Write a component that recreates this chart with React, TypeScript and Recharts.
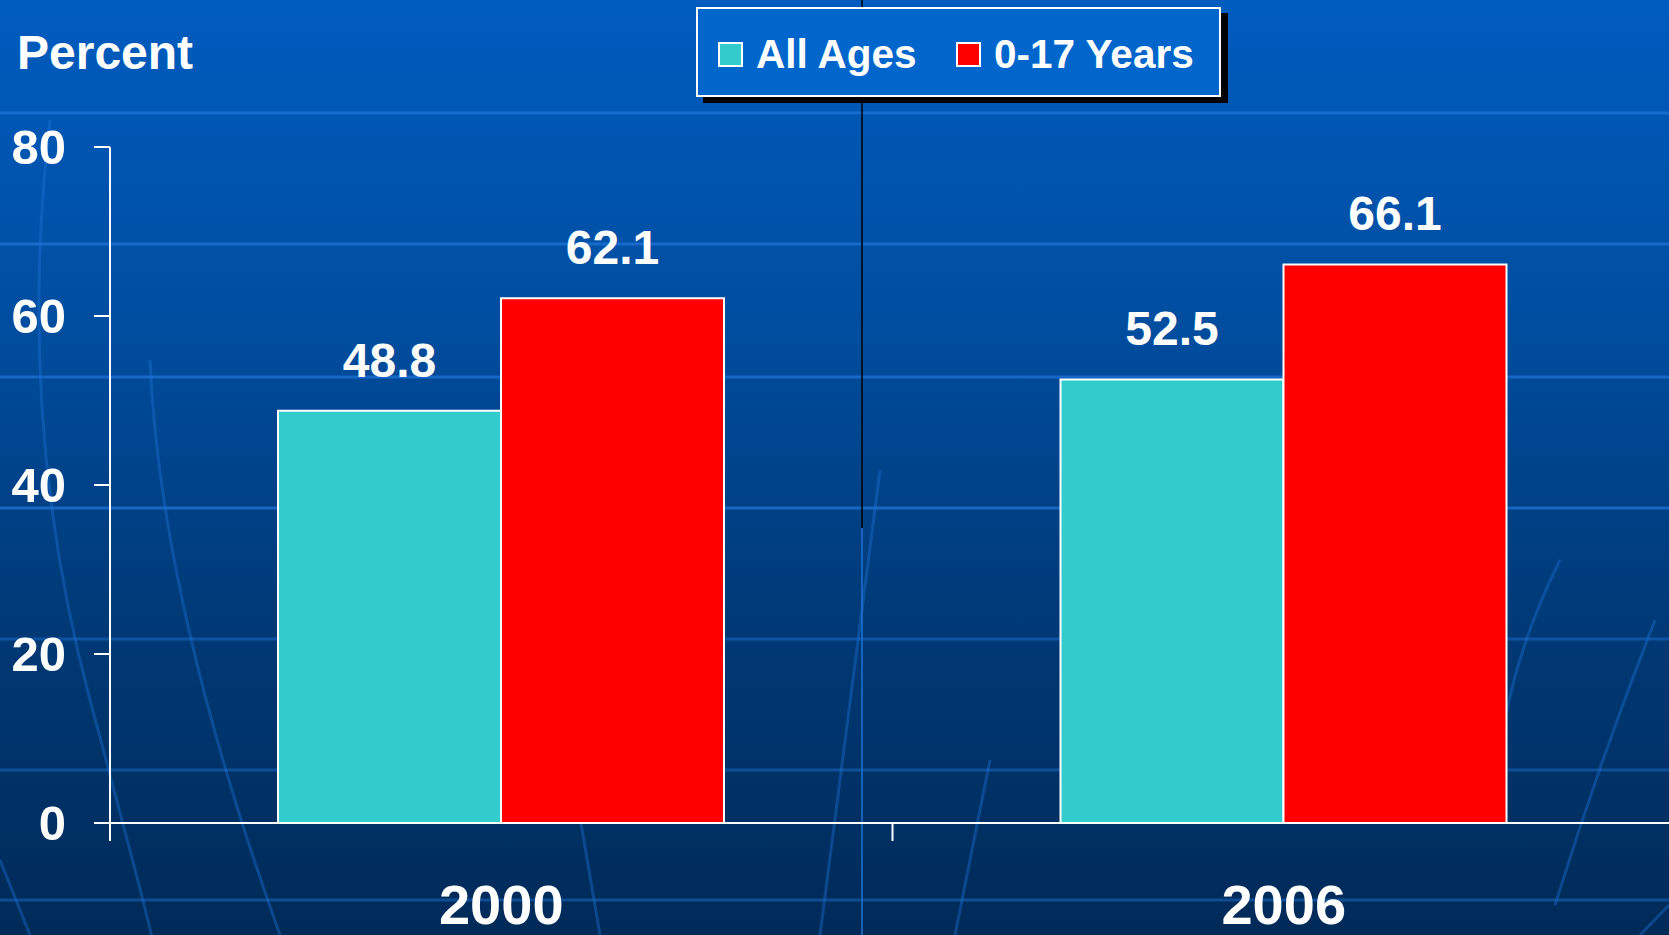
import React from 'react';
import { BarChart, Bar, XAxis, YAxis, Legend, LabelList } from 'recharts';

/* chart values */
const years = ['2000', '2006'];
const allAges = [48.8, 52.5];
const youth = [62.1, 66.1];
const yTicks = [0, 20, 40, 60, 80];
const seriesOrder = ['All Ages', '0-17 Years'];

const chartData = years.map((year, i) => ({ year, allAges: allAges[i], youth: youth[i] }));

const FONT = '"Liberation Sans", Arial, Helvetica, sans-serif';

/* decorative globe-like background lines */
const bgRows = [113, 244, 377, 508, 639, 770, 900];
const bgCurves = [
  'M 50 120 Q 15 420 90 700 T 150 935',
  'M 150 360 Q 160 600 280 935',
  'M 0 860 L 30 935',
  'M 560 700 Q 580 820 600 935',
  'M 880 470 Q 850 700 820 935',
  'M 990 760 L 955 935',
  'M 1560 560 Q 1520 640 1505 720',
  'M 1655 620 Q 1600 760 1555 905',
  'M 1669 905 L 1640 935',
];

const XTick = (props: any) => {
  const { x, y, payload } = props;
  const half = payload && typeof payload.offset === 'number' ? payload.offset : 392;
  return (
    <g>
      <line x1={x - half} x2={x - half} y1={y - 18} y2={y} stroke="#fff" strokeWidth={2} />
      <text x={x} y={y + 83} textAnchor="middle" fill="#fff" fontSize={56} fontWeight="bold" fontFamily={FONT}>
        {payload.value}
      </text>
    </g>
  );
};

const LegendBox = (props: any) => {
  const payload = [...(props.payload || [])].sort(
    (a: any, b: any) => seriesOrder.indexOf(a.value) - seriesOrder.indexOf(b.value)
  );
  return (
    <div
      style={{
        width: 525,
        height: 90,
        boxSizing: 'border-box',
        background: '#0066cc',
        border: '2px solid #fff',
        boxShadow: '7px 6px 0 #000',
        display: 'flex',
        alignItems: 'center',
        paddingLeft: 20,
        paddingTop: 5,
        fontFamily: FONT,
      }}
    >
      {payload.map((entry: any, i: number) => (
        <div key={i} style={{ display: 'flex', alignItems: 'center', width: i === 0 ? 238 : undefined }}>
          <span
            style={{
              width: 25,
              height: 25,
              boxSizing: 'border-box',
              background: entry.color,
              border: '2px solid #fff',
              marginRight: 13,
              display: 'inline-block',
            }}
          />
          <span style={{ color: '#fff', fontSize: 40.5, fontWeight: 'bold', lineHeight: 1, whiteSpace: 'nowrap' }}>
            {entry.value}
          </span>
        </div>
      ))}
    </div>
  );
};

export default function App() {
  return (
    <div
      style={{
        position: 'absolute',
        left: 0,
        top: 0,
        width: 1669,
        height: 935,
        overflow: 'hidden',
        background: 'linear-gradient(180deg, #005cbf 0%, #004d9f 35%, #003a78 65%, #002a58 100%)',
      }}
    >
      <svg width={1669} height={935} style={{ position: 'absolute', left: 0, top: 0 }}>
        {bgRows.map((y, i) => (
          <line key={i} x1={0} x2={1669} y1={y} y2={y} stroke="#1f73d6" strokeOpacity={i < 4 ? 0.75 : 0.45} strokeWidth={3} />
        ))}
        {bgCurves.map((d, i) => (
          <path key={i} d={d} fill="none" stroke="#1f73d6" strokeOpacity={0.4} strokeWidth={3} />
        ))}
        <line x1={862} x2={862} y1={0} y2={528} stroke="#000" strokeWidth={1.5} />
        <line x1={862} x2={862} y1={528} y2={935} stroke="#1f73d6" strokeWidth={1.5} />
        <text x={17} y={69} fill="#fff" fontSize={48} fontWeight="bold" fontFamily={FONT}>
          Percent
        </text>
      </svg>
      <div style={{ position: 'absolute', left: 0, top: 0 }}>
        <BarChart
          width={1697}
          height={935}
          data={chartData}
          barGap={0}
          margin={{ top: 147, right: 22, bottom: 0, left: 0 }}
        >
          <XAxis
            dataKey="year"
            height={112}
            axisLine={{ stroke: '#fff', strokeWidth: 2 }}
            tickLine={false}
            tickSize={18}
            tickMargin={0}
            tick={<XTick />}
            interval={0}
          />
          <YAxis
            width={110}
            domain={[0, 80]}
            ticks={yTicks}
            interval={0}
            axisLine={{ stroke: '#fff', strokeWidth: 2 }}
            tickLine={{ stroke: '#fff', strokeWidth: 2 }}
            tickSize={16}
            tickMargin={28}
            tick={{ fill: '#fff', fontSize: 49, fontWeight: 'bold', fontFamily: FONT }}
          />
          <Legend
            layout="horizontal"
            verticalAlign="middle"
            align="center"
            content={<LegendBox />}
            wrapperStyle={{ left: 696, top: 7, width: 525, height: 90 }}
          />
          <Bar dataKey="allAges" name="All Ages" fill="#33cccc" stroke="#fff" strokeWidth={2} barSize={223} isAnimationActive={false}>
            <LabelList dataKey="allAges" position="top" offset={34} fill="#fff" fontSize={48} fontWeight="bold" fontFamily={FONT} />
          </Bar>
          <Bar dataKey="youth" name="0-17 Years" fill="#ff0000" stroke="#fff" strokeWidth={2} barSize={223} isAnimationActive={false}>
            <LabelList dataKey="youth" position="top" offset={34} fill="#fff" fontSize={48} fontWeight="bold" fontFamily={FONT} />
          </Bar>
        </BarChart>
      </div>
    </div>
  );
}
